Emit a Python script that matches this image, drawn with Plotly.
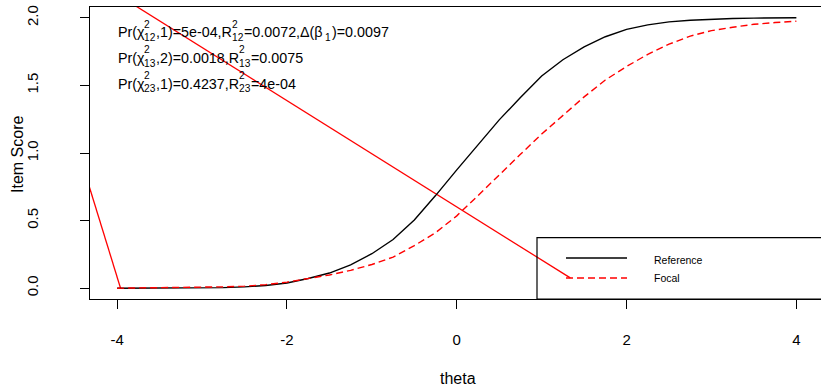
import plotly.graph_objects as go

# ---- data -------------------------------------------------------------
theta = [-4.0, -3.75, -3.5, -3.25, -3.0, -2.75, -2.5, -2.25, -2.0, -1.75,
         -1.5, -1.25, -1.0, -0.75, -0.5, -0.25, 0.0, 0.25, 0.5, 0.75,
         1.0, 1.25, 1.5, 1.75, 2.0, 2.25, 2.5, 2.75, 3.0, 3.25, 3.5, 3.75, 4.0]

reference_score = [0.000, 0.000, 0.000, 0.000, 0.001, 0.004, 0.010, 0.020, 0.038, 0.072,
                   0.112, 0.172, 0.255, 0.360, 0.505, 0.685, 0.875, 1.060, 1.245, 1.410,
                   1.570, 1.690, 1.785, 1.860, 1.915, 1.948, 1.970, 1.982, 1.990, 1.995,
                   1.998, 2.000, 2.000]

focal_score = [0.000, 0.001, 0.003, 0.005, 0.007, 0.010, 0.015, 0.026, 0.045, 0.070,
               0.098, 0.132, 0.175, 0.230, 0.315, 0.410, 0.535, 0.685, 0.840, 0.990,
               1.140, 1.280, 1.415, 1.540, 1.640, 1.730, 1.805, 1.865, 1.905, 1.930,
               1.952, 1.965, 1.975]

# two straight red segments crossing the panel
segment_a_x = [-4.5, -3.96]
segment_a_y = [1.10, 0.0]
segment_b_x = [-4.5, 1.337]
segment_b_y = [2.37, 0.076]

x_ticks = [-4, -2, 0, 2, 4]
y_ticks = [0.0, 0.5, 1.0, 1.5, 2.0]
y_tick_text = ["0.0", "0.5", "1.0", "1.5", "2.0"]

# DIF statistics
p_12, r2_12, d_beta1 = "5e-04", "0.0072", "0.0097"
p_13, r2_13 = "0.0018", "0.0075"
p_23, r2_23 = "0.4237", "4e-04"

legend_labels = ["Reference", "Focal"]

# ---- layout geometry (pixels) ----------------------------------------
W, H = 821, 390
ML, MR, MT, MB = 90, 0, 7, 91
PW, PH = W - ML - MR, H - MT - MB


def px(x):
    return (x - ML) / PW


def py(y):
    return (H - MB - y) / PH


FONT = "Liberation Sans, Arial, sans-serif"
RED = "#FF0000"

fig = go.Figure()
fig.add_trace(go.Scatter(x=segment_a_x, y=segment_a_y, mode="lines",
                         line=dict(color=RED, width=1.3), showlegend=False, hoverinfo="skip"))
fig.add_trace(go.Scatter(x=segment_b_x, y=segment_b_y, mode="lines",
                         line=dict(color=RED, width=1.3), showlegend=False, hoverinfo="skip"))
fig.add_trace(go.Scatter(x=theta, y=reference_score, mode="lines", name=legend_labels[0],
                         line=dict(color="black", width=1.4), showlegend=False))
fig.add_trace(go.Scatter(x=theta, y=focal_score, mode="lines", name=legend_labels[1],
                         line=dict(color=RED, width=1.4, dash="7px,4px"), showlegend=False))

# ---- plotmath-like statistic lines ------------------------------------
ADV = {'P': 667, 'r': 333, '(': 333, ')': 333, 'χ': 500, ',': 278, '.': 278,
       '-': 333, '=': 584, 'e': 556, 'R': 722, 'Δ': 668, 'β': 575, ' ': 278}
MAIN, SCRIPT = 14.3, 10.2


def width(s, size):
    return sum(ADV.get(c, 556) for c in s) * size / 1000.0


stat_lines = [
    [("m", "Pr(χ"), ("s", "2", "12"), ("m", ",1)=" + p_12 + ",R"), ("s", "2", "12"),
     ("m", "=" + r2_12 + ",Δ(β"), ("b", "1"), ("m", ")=" + d_beta1)],
    [("m", "Pr(χ"), ("s", "2", "13"), ("m", ",2)=" + p_13 + ",R"), ("s", "2", "13"),
     ("m", "=" + r2_13)],
    [("m", "Pr(χ"), ("s", "2", "23"), ("m", ",1)=" + p_23 + ",R"), ("s", "2", "23"),
     ("m", "=" + r2_23)],
]
line_y = [32.5, 58.0, 83.5]
x_start = 116.0

annotations = []


def put(text, x, y, size):
    annotations.append(dict(text=text, x=px(x), y=py(y), xref="paper", yref="paper",
                            xanchor="left", yanchor="middle", showarrow=False,
                            font=dict(family=FONT, size=size, color="black")))


for pieces, yc in zip(stat_lines, line_y):
    x = x_start
    for piece in pieces:
        if piece[0] == "m":
            put(piece[1], x, yc, MAIN)
            x += width(piece[1], MAIN)
        elif piece[0] == "s":
            put(piece[1], x, yc - 8.5, SCRIPT)
            put(piece[2], x, yc + 5.0, SCRIPT)
            x += max(width(piece[1], SCRIPT), width(piece[2], SCRIPT)) + 0.5
        else:
            x += 3.0
            put(piece[1], x, yc + 5.0, SCRIPT)
            x += width(piece[1], SCRIPT) + 1.0

# axis titles
annotations.append(dict(text="theta", x=px(458), y=py(378), xref="paper", yref="paper",
                        xanchor="center", yanchor="middle", showarrow=False,
                        font=dict(family=FONT, size=16, color="black")))
annotations.append(dict(text="Item Score", x=px(17), y=py(155), xref="paper", yref="paper",
                        xanchor="center", yanchor="middle", textangle=-90, showarrow=False,
                        font=dict(family=FONT, size=16, color="black")))

# legend text
for label, yc in zip(legend_labels, [260, 277.5]):
    annotations.append(dict(text=label, x=px(652), y=py(yc), xref="paper", yref="paper",
                            xanchor="left", yanchor="middle", showarrow=False,
                            font=dict(family=FONT, size=10.5, color="black")))

shapes = [
    # legend frame
    dict(type="rect", xref="paper", yref="paper", x0=px(537), x1=1.05, y0=0, y1=py(237.7),
         line=dict(color="black", width=1.2), fillcolor="rgba(0,0,0,0)", layer="above"),
    # legend samples
    dict(type="line", xref="paper", yref="paper", x0=px(566), x1=px(627), y0=py(258), y1=py(258),
         line=dict(color="black", width=1.4)),
    dict(type="line", xref="paper", yref="paper", x0=px(566), x1=px(627), y0=py(278), y1=py(278),
         line=dict(color=RED, width=1.4, dash="7px,4px")),
]

x_lo = -4.32
x_hi = x_lo + PW / 84.9

fig.update_layout(
    width=W, height=H,
    margin=dict(l=ML, r=MR, t=MT, b=MB, pad=0),
    paper_bgcolor="white", plot_bgcolor="white",
    showlegend=False,
    annotations=annotations,
    shapes=shapes,
    xaxis=dict(range=[x_lo, x_hi], tickvals=x_ticks, ticktext=[str(v) for v in x_ticks],
               showgrid=False, zeroline=False, showline=True, mirror=True,
               linecolor="black", linewidth=1.2, ticks="outside", ticklen=9,
               tickcolor="black", tickwidth=1.2, ticklabelstandoff=18,
               tickfont=dict(family=FONT, size=15, color="black")),
    yaxis=dict(range=[-0.08, 2.08], tickvals=y_ticks, ticktext=y_tick_text,
               showgrid=False, zeroline=False, showline=True, mirror=False,
               linecolor="black", linewidth=1.2, ticks="outside", ticklen=9,
               tickcolor="black", tickwidth=1.2, tickangle=-90, ticklabelstandoff=36,
               tickfont=dict(family=FONT, size=15, color="black")),
)

fig.write_html("out.html")
